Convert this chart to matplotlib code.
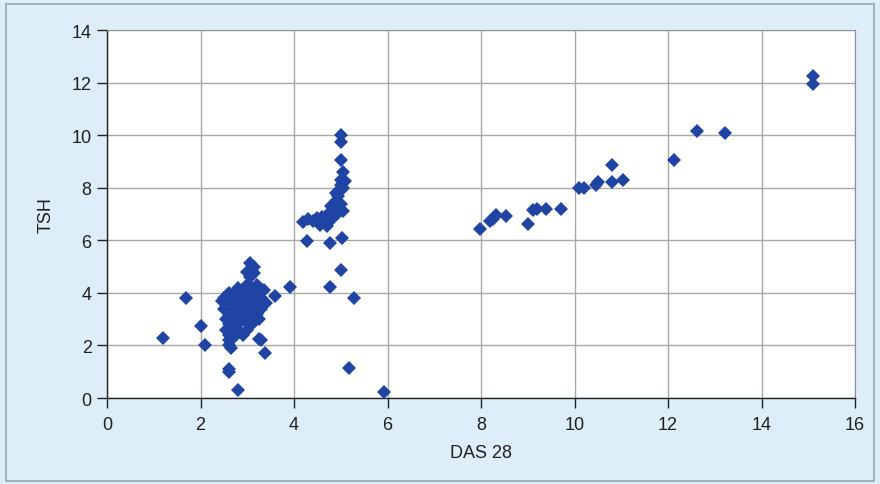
import matplotlib
matplotlib.use("Agg")
import matplotlib.pyplot as plt
from matplotlib.patches import Rectangle

# DAS 28 vs TSH

# low cluster around DAS 28 = 2.5..3.5
das_low = [2.5, 2.55, 2.5, 2.6, 2.55, 2.6, 2.55, 2.6, 2.6, 2.62, 2.65, 2.7, 2.7, 2.7, 2.7, 2.7,
           2.75, 2.8, 2.85, 2.85, 2.8, 2.8, 2.85, 2.9, 2.9, 2.95, 3.0, 3.0, 3.0, 3.0, 3.0, 3.05,
           3.1, 3.1, 3.1, 3.1, 3.15, 3.2, 3.2, 3.2, 3.25, 3.3, 3.3, 3.35, 3.4, 3.1, 3.0, 2.9,
           3.05, 3.0, 3.05, 3.15, 3.15, 2.6, 2.55, 2.65, 2.45, 3.25, 3.25, 3.3, 3.38, 2.6, 2.6,
           2.8, 1.2, 1.68, 2.0, 2.1, 3.59, 3.91]
tsh_low = [3.8, 3.6, 3.4, 3.2, 3.0, 2.8, 2.6, 2.4, 2.2, 2.0, 1.9, 2.3, 2.6, 2.9, 3.3, 3.6,
           4.0, 4.2, 3.8, 3.4, 3.1, 2.8, 2.5, 3.0, 3.6, 4.1, 4.3, 3.9, 3.5, 3.2, 2.9, 3.7,
           4.0, 4.2, 3.4, 3.0, 3.8, 4.3, 3.6, 3.2, 4.0, 3.8, 3.4, 4.1, 3.6, 2.8, 2.6, 2.4,
           4.6, 4.8, 5.15, 5.0, 4.75, 4.0, 3.75, 3.9, 3.7, 3.0, 2.25, 2.2, 1.72, 1.1, 1.0,
           0.32, 2.3, 3.8, 2.73, 2.0, 3.89, 4.23]

# middle group around DAS 28 = 4..6
das_mid = [4.27, 4.77, 5.02, 4.78, 5.0, 5.28, 5.18, 5.93,
           4.2, 4.3, 4.4, 4.5, 4.55, 4.6, 4.7, 4.7, 4.75, 4.8, 4.85, 4.85, 4.9, 4.9, 4.95,
           4.95, 5.0, 5.0, 5.0, 4.9, 5.05, 5.0, 5.05, 5.1, 5.0, 5.0, 5.0, 4.8, 4.75, 5.05]
tsh_mid = [5.98, 5.89, 6.1, 4.23, 4.88, 3.79, 1.13, 0.22,
           6.7, 6.8, 6.75, 6.85, 6.6, 6.9, 6.55, 6.95, 7.0, 6.8, 7.1, 7.3, 6.95, 7.5, 7.2,
           7.7, 7.4, 7.9, 8.1, 7.8, 8.0, 8.3, 8.6, 8.25, 9.05, 9.75, 10.0, 7.3, 6.7, 7.1]

# high group
das_high = [7.98, 8.2, 8.25, 8.32, 8.53, 9.0, 9.12, 9.2, 9.4, 9.71, 10.1, 10.2, 10.45,
            10.5, 10.8, 11.03, 10.8, 12.13, 12.61, 13.22, 15.1, 15.1]
tsh_high = [6.43, 6.75, 6.8, 6.95, 6.91, 6.62, 7.16, 7.18, 7.19, 7.19, 7.98, 8.0, 8.1,
            8.2, 8.2, 8.3, 8.87, 9.06, 10.15, 10.08, 12.25, 11.95]

das = das_low + das_mid + das_high
tsh = tsh_low + tsh_mid + tsh_high

BG = "#ddeef8"
POINT = "#1f44a3"

plt.rcParams['font.family'] = ['Liberation Sans', 'DejaVu Sans']

fig = plt.figure(figsize=(8.8, 4.85), dpi=100)
fig.patch.set_facecolor(BG)
fig.patches.append(Rectangle((0.007, 0.006), 0.986, 0.984, transform=fig.transFigure,
                             fill=False, edgecolor="#9aa6ad", linewidth=1.2))

ax = fig.add_axes([0.1216, 0.1773, 0.85, 0.7587])
ax.set_facecolor("white")
ax.plot(das, tsh, linestyle="none", marker="D", markersize=7.3,
        color=POINT, markeredgewidth=0, zorder=3)

ax.set_xlim(0, 16)
ax.set_ylim(0, 14)
ax.set_xticks(range(0, 17, 2))
ax.set_yticks(range(0, 15, 2))
ax.grid(True, color="#a8a8a8", linewidth=1.0)
ax.set_axisbelow(True)

for side in ["top", "right"]:
    ax.spines[side].set_color("#909090")
for side in ["left", "bottom"]:
    ax.spines[side].set_color("#202020")
    ax.spines[side].set_linewidth(1.0)

ax.tick_params(direction="out", length=7, width=1, color="#202020",
               labelsize=13, labelcolor="#202020", pad=4)
ax.tick_params(axis="x", pad=6)
ax.set_xlabel("DAS 28", fontsize=13, color="#202020", labelpad=8)
ax.set_ylabel("TSH", fontsize=13, color="#202020", labelpad=12)

fig.savefig("out.png", dpi=100, facecolor=BG)
